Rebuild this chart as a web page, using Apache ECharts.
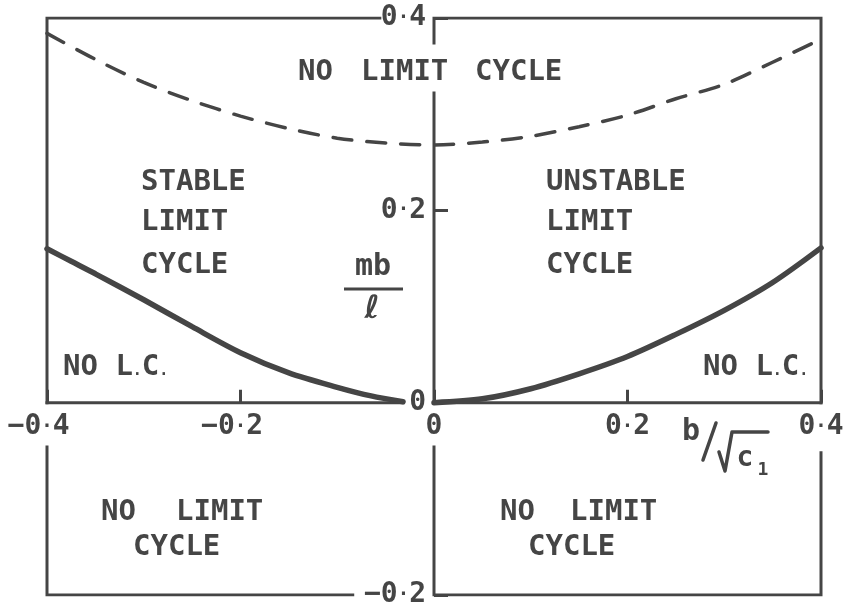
<!DOCTYPE html>
<html>
<head>
<meta charset="utf-8">
<title>Limit cycle regions</title>
<script src="https://cdn.jsdelivr.net/npm/echarts@6.0.0/dist/echarts.min.js"></script>
<style>
  html, body { margin: 0; padding: 0; background: #ffffff; }
  #chart { width: 849px; height: 616px; }
</style>
</head>
<body>
<div id="chart"></div>
<script>
// ---------------- data ----------------
const xTicks = [-0.4, -0.2, 0, 0.2, 0.4];
const yTicks = [-0.2, 0, 0.2, 0.4];

// lower boundary, stable side (b < 0)
const stableX = [-0.4, -0.375, -0.35, -0.3, -0.25, -0.2, -0.15, -0.1, -0.065, -0.032];
const stableY = [0.160, 0.147, 0.134, 0.107, 0.079, 0.052, 0.031, 0.016, 0.007, 0.001];

// lower boundary, unstable side (b > 0)
const unstableX = [0, 0.05, 0.1, 0.15, 0.2, 0.25, 0.3, 0.35, 0.4];
const unstableY = [0, 0.004, 0.0145, 0.030, 0.048, 0.071, 0.096, 0.125, 0.161];

// upper boundary (dashed)
const upperX = [-0.4, -0.35, -0.3, -0.25, -0.2, -0.15, -0.1, -0.05, 0, 0.05, 0.1, 0.15, 0.2, 0.25, 0.3, 0.35, 0.4];
const upperY = [0.384, 0.357, 0.333, 0.314, 0.298, 0.285, 0.275, 0.270, 0.268, 0.271, 0.277, 0.287, 0.299, 0.316, 0.331, 0.354, 0.378];

// ---------------- layout & style ----------------
const X_MIN = -0.4, X_MAX = 0.4, Y_MIN = -0.2, Y_MAX = 0.4;
const INK = '#454545';
const MONO = '"DejaVu Sans Mono", "Liberation Mono", monospace';
const SANS = '"DejaVu Sans", "Liberation Sans", sans-serif';

// where the box and the axes are interrupted to leave room for lettering
const BREAK = {
  topLeftEnd: -0.056,
  axisTopStub: 0.374,
  axisResume: 0.322,
  zeroLeftEnd: -0.032,
  lowerResume: -0.046,
  rightLowerResume: -0.052,
  bottomLeftEnd: -0.084
};

const frame = [
  [[X_MIN, 0], [X_MIN, Y_MAX], [BREAK.topLeftEnd, Y_MAX]],
  [[0, BREAK.axisTopStub], [0, Y_MAX], [X_MAX, Y_MAX], [X_MAX, 0]],
  [[0, BREAK.axisResume], [0, 0]],
  [[0, 0], [X_MAX, 0]],
  [[X_MIN, 0], [BREAK.zeroLeftEnd, 0]],
  [[X_MIN, BREAK.lowerResume], [X_MIN, Y_MIN], [BREAK.bottomLeftEnd, Y_MIN]],
  [[0, BREAK.lowerResume], [0, Y_MIN], [X_MAX, Y_MIN], [X_MAX, BREAK.rightLowerResume]]
];

// region lettering: text, left edge (px), vertical centre (px)
const lettering = [
  ['NO', 298, 72], ['LIMIT', 361, 72], ['CYCLE', 475, 72],
  ['STABLE', 141, 182], ['LIMIT', 141, 222], ['CYCLE', 141, 265],
  ['UNSTABLE', 546, 182], ['LIMIT', 546, 222], ['CYCLE', 546, 265],
  ['NO', 101, 512], ['LIMIT', 176, 512], ['CYCLE', 133, 547],
  ['NO', 500, 512], ['LIMIT', 570, 512], ['CYCLE', 528, 547]
];
const shortLabels = [[63, 367], [703, 367]];

const zip = (xs, ys) => xs.map((x, i) => [x, ys[i]]);

// tick text as rich text: full-size digits, a narrow raised point
function tickText(v, padRight) {
  if (Math.abs(v) < 1e-9) return '{d|0}';
  const [a, b] = Math.abs(v).toFixed(1).split('.');
  const s = '{d|' + a + '}{p|\u00b7}{d|' + b + '}';
  return v < 0 ? '{d|\u2212}' + s + (padRight ? '{d| }' : '') : s;
}

const tickRich = {
  d: { color: INK, fontFamily: MONO, fontSize: 28, fontWeight: 'bold' },
  p: { color: INK, fontFamily: MONO, fontSize: 19, fontWeight: 'bold' }
};

const chart = echarts.init(document.getElementById('chart'), null, { renderer: 'canvas' });

const letterEls = lettering.map(([t, x, y]) => ({
  type: 'text', x, y, silent: true,
  style: { text: t, font: 'bold 29px ' + MONO, fill: INK, textAlign: 'left', textVerticalAlign: 'middle' }
}));

const lcEls = shortLabels.map(([x, y]) => ({
  type: 'text', x, y, silent: true,
  style: {
    text: '{a|NO L}{p|.}{a|C}{p|.}',
    textAlign: 'left', textVerticalAlign: 'middle',
    rich: {
      a: { fontFamily: MONO, fontSize: 29, fontWeight: 'bold', fill: INK, verticalAlign: 'bottom' },
      p: { fontFamily: MONO, fontSize: 15, fontWeight: 'bold', fill: INK, verticalAlign: 'bottom', padding: [0, 0, 3, 0] }
    }
  }
}));

// y-axis name  mb / l
const yName = [
  { type: 'text', x: 373, y: 282, silent: true,
    style: { text: 'mb', font: 'bold 30px ' + MONO, fill: INK, textAlign: 'center', textVerticalAlign: 'bottom' } },
  { type: 'line', silent: true, shape: { x1: 344, y1: 289, x2: 403, y2: 289 },
    style: { stroke: INK, lineWidth: 3 } },
  { type: 'text', x: 372, y: 310, silent: true,
    style: { text: '\u2113', font: 'bold 32px ' + SANS, fill: INK, textAlign: 'center', textVerticalAlign: 'middle' } }
];

// x-axis name  b / sqrt(c1)
const xName = [
  { type: 'text', x: 691, y: 432, silent: true,
    style: { text: 'b', font: 'bold 30px ' + MONO, fill: INK, textAlign: 'center', textVerticalAlign: 'middle' } },
  { type: 'line', silent: true, shape: { x1: 703, y1: 460, x2: 716, y2: 423 },
    style: { stroke: INK, lineWidth: 3.5, lineCap: 'round' } },
  { type: 'polyline', silent: true, shape: { points: [[719, 452], [725, 471], [732, 432], [768, 432]] },
    style: { stroke: INK, lineWidth: 3.5, fill: null, lineJoin: 'round', lineCap: 'round' } },
  { type: 'text', x: 745, y: 459, silent: true,
    style: { text: 'c', font: 'bold 28px ' + MONO, fill: INK, textAlign: 'center', textVerticalAlign: 'middle' } },
  { type: 'text', x: 763, y: 470, silent: true,
    style: { text: '1', font: 'bold 18px ' + MONO, fill: INK, textAlign: 'center', textVerticalAlign: 'middle' } }
];

// the axis lines themselves are drawn by the frame series (with breaks)
const noAxisLine = { show: false, onZero: false };

chart.setOption({
  animation: false,
  backgroundColor: '#ffffff',
  grid: { left: 47, right: 28, top: 18, bottom: 21, containLabel: false, outerBoundsMode: 'none' },
  xAxis: {
    type: 'value', min: X_MIN, max: X_MAX, interval: 0.2, position: 'bottom',
    axisLine: noAxisLine,
    axisTick: { show: true, inside: true, length: 13, customValues: xTicks,
      lineStyle: { color: INK, width: 3 } },
    axisLabel: {
      margin: 10, customValues: xTicks, rich: tickRich,
      // trailing pad keeps the digits centred under the tick, minus sign hangs left
      formatter: v => tickText(v, true)
    },
    splitLine: { show: false }
  },
  yAxis: {
    type: 'value', min: Y_MIN, max: Y_MAX, interval: 0.2, position: 'left',
    axisLine: noAxisLine,
    axisTick: { show: true, inside: true, length: 14, customValues: yTicks,
      lineStyle: { color: INK, width: 3 } },
    axisLabel: {
      margin: 8, customValues: yTicks, rich: tickRich,
      formatter: v => tickText(v, false)
    },
    splitLine: { show: false }
  },
  series: [
    {
      name: 'frame', type: 'lines', coordinateSystem: 'cartesian2d', polyline: true,
      silent: true, z: 1,
      lineStyle: { color: INK, width: 3, opacity: 1, cap: 'square', join: 'miter' },
      data: frame.map(c => ({ coords: c }))
    },
    {
      name: 'upper', type: 'line', data: zip(upperX, upperY), showSymbol: false,
      smooth: 0.3, silent: true, z: 3,
      lineStyle: { color: INK, width: 3.5, type: [19, 15], cap: 'round' }
    },
    {
      name: 'stable', type: 'line', data: zip(stableX, stableY), showSymbol: false,
      smooth: 0.3, silent: true, z: 3,
      lineStyle: { color: INK, width: 5.5, cap: 'round' }
    },
    {
      name: 'unstable', type: 'line', data: zip(unstableX, unstableY), showSymbol: false,
      smooth: 0.3, silent: true, z: 3,
      lineStyle: { color: INK, width: 5.5, cap: 'round' }
    }
  ],
  graphic: letterEls.concat(lcEls, yName, xName)
});

// move both axes onto the origin, using the chart's own scales
const origin = chart.convertToPixel({ gridIndex: 0 }, [0, 0]);
const corner = chart.convertToPixel({ gridIndex: 0 }, [X_MIN, Y_MIN]);
chart.setOption({
  xAxis: { offset: -(corner[1] - origin[1]) },
  yAxis: { offset: -(origin[0] - corner[0]) }
});
</script>
</body>
</html>
